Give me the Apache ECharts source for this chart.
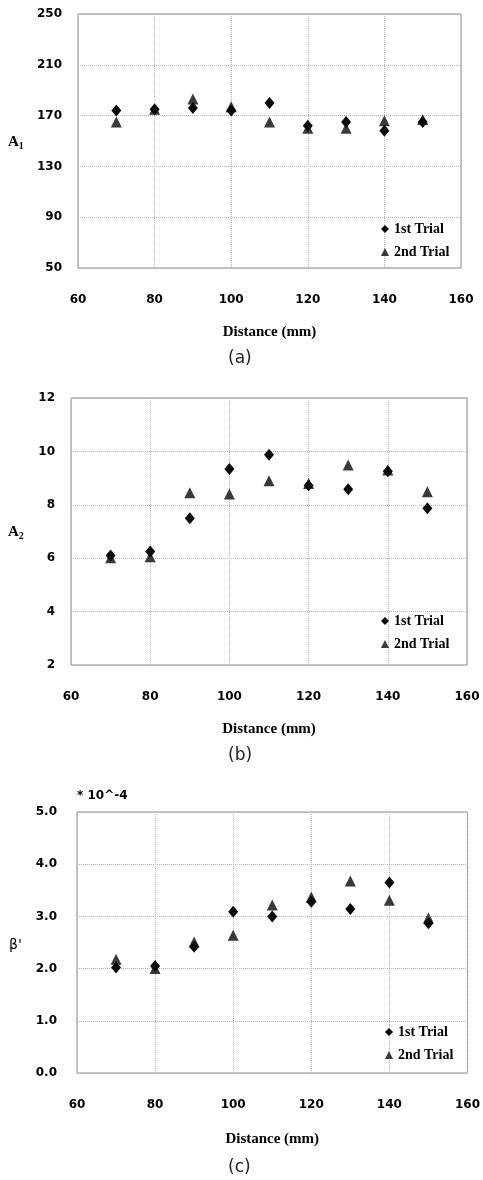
<!DOCTYPE html>
<html>
<head>
<meta charset="utf-8">
<script src="https://cdn.jsdelivr.net/npm/echarts@6/dist/echarts.min.js"></script>
<style>
html,body{margin:0;padding:0;background:#fff;}
#chart{width:483px;height:1180px;}
</style>
</head>
<body>
<div id="chart"></div>
<script>
// ---- data ----
var distance = [70, 80, 90, 100, 110, 120, 130, 140, 150];
var xTicks = [60, 80, 100, 120, 140, 160];

var a1Trial1 = [174, 175, 176, 174, 180, 162, 165, 158, 165];
var a1Trial2 = [165, 175, 183, 177, 165, 160, 160, 166, 167];

var a2Trial1 = [6.1, 6.25, 7.5, 9.34, 9.87, 8.72, 8.58, 9.26, 7.87];
var a2Trial2 = [6.02, 6.05, 8.45, 8.4, 8.9, 8.8, 9.49, 9.3, 8.49];

var betaTrial1 = [2.02, 2.05, 2.42, 3.09, 3.0, 3.28, 3.14, 3.65, 2.87];
var betaTrial2 = [2.18, 2.0, 2.51, 2.64, 3.22, 3.37, 3.68, 3.31, 2.97];

var seriesNames = ['1st Trial', '2nd Trial'];
var panelLabels = ['(a)', '(b)', '(c)'];
var xName = 'Distance (mm)';

function pairs(xs, ys) { return xs.map(function (x, i) { return [x, ys[i]]; }); }

var grids = [
  { left: 78, top: 14, width: 383, height: 254 },
  { left: 71, top: 398, width: 396, height: 267 },
  { left: 77, top: 812, width: 393, height: 261 }
];
var yDefs = [
  { min: 50, max: 250, interval: 40, margin: 16, fmt: function (v) { return String(v); } },
  { min: 2, max: 12, interval: 2, margin: 16, fmt: function (v) { return String(v); } },
  { min: 0, max: 5, interval: 1, margin: 20, fmt: function (v) { return v.toFixed(1); } }
];
var dataSets = [[a1Trial1, a1Trial2], [a2Trial1, a2Trial2], [betaTrial1, betaTrial2]];

var gridLine = { show: true, lineStyle: { color: '#b5b5b5', type: 'dotted', width: 1 } };
var tickFont = { fontFamily: 'DejaVu Sans', fontWeight: 'bold', fontSize: 12, color: '#000' };

var option = {
  backgroundColor: '#fff',
  animation: false,
  grid: grids.map(function (g) {
    return Object.assign({ show: true, borderColor: '#8a8a8a', borderWidth: 1, backgroundColor: 'transparent' }, g);
  }),
  xAxis: grids.map(function (g, i) {
    return {
      gridIndex: i, type: 'value', min: xTicks[0], max: xTicks[xTicks.length - 1], interval: 20,
      axisLine: { show: false }, axisTick: { show: false },
      splitLine: gridLine,
      axisLabel: Object.assign({ margin: 26 }, tickFont),
      name: xName, nameLocation: 'middle', nameGap: i === 2 ? 59 : 57,
      nameTextStyle: { fontFamily: 'Liberation Serif', fontWeight: 'bold', fontSize: 15, color: '#000' }
    };
  }),
  yAxis: yDefs.map(function (d, i) {
    return {
      gridIndex: i, type: 'value', min: d.min, max: d.max, interval: d.interval,
      axisLine: { show: false }, axisTick: { show: false },
      splitLine: gridLine,
      axisLabel: Object.assign({ margin: d.margin, formatter: d.fmt }, tickFont)
    };
  }),
  legend: [
    { left: 381, top: 222 },
    { left: 381, top: 614 },
    { left: 385, top: 1025 }
  ].map(function (p) {
    return {
      left: p.left, top: p.top, orient: 'vertical', itemGap: 9, itemWidth: 8, itemHeight: 8,
      padding: 0,
      textStyle: { fontFamily: 'Liberation Serif', fontWeight: 'bold', fontSize: 14, color: '#000' },
      data: [{ name: seriesNames[0], icon: 'diamond' }, { name: seriesNames[1], icon: 'triangle' }]
    };
  }),
  series: [],
  graphic: []
};

dataSets.forEach(function (ds, i) {
  option.series.push({
    type: 'scatter', name: seriesNames[1], xAxisIndex: i, yAxisIndex: i,
    symbol: 'triangle', symbolSize: [11, 11],
    itemStyle: { color: '#3a3a3a', opacity: 1 },
    data: pairs(distance, ds[1])
  });
  option.series.push({
    type: 'scatter', name: seriesNames[0], xAxisIndex: i, yAxisIndex: i,
    symbol: 'diamond', symbolSize: [10, 12],
    itemStyle: { color: '#080808', opacity: 1 },
    data: pairs(distance, ds[0])
  });
});

var capY = [361, 758, 1170];
panelLabels.forEach(function (t, i) {
  option.graphic.push({
    type: 'text', left: 240 - 12, top: capY[i] - 11,
    style: { text: t, fontFamily: 'DejaVu Sans', fontSize: 17, fontWeight: 'normal', fill: '#222' }
  });
});

var yNameStyle = {
  a: { fontFamily: 'Liberation Serif', fontWeight: 'bold', fontSize: 15, fill: '#000', color: '#000' },
  s: { fontFamily: 'Liberation Serif', fontWeight: 'bold', fontSize: 10, fill: '#000', color: '#000', padding: [8, 0, 0, 0] }
};
option.graphic.push({ type: 'text', left: 8, top: 135, style: { text: '{a|A}{s|1}', rich: yNameStyle } });
option.graphic.push({ type: 'text', left: 8, top: 525, style: { text: '{a|A}{s|2}', rich: yNameStyle } });
option.graphic.push({ type: 'text', left: 9, top: 938,
  style: { text: "β'", fontFamily: 'DejaVu Sans', fontSize: 14, fill: '#000' } });
option.graphic.push({ type: 'text', left: 77, top: 790,
  style: { text: '* 10^-4', fontFamily: 'DejaVu Sans', fontWeight: 'bold', fontSize: 12, fill: '#000' } });

var chart = echarts.init(document.getElementById('chart'), null, { renderer: 'canvas' });
chart.setOption(option);
</script>
</body>
</html>
